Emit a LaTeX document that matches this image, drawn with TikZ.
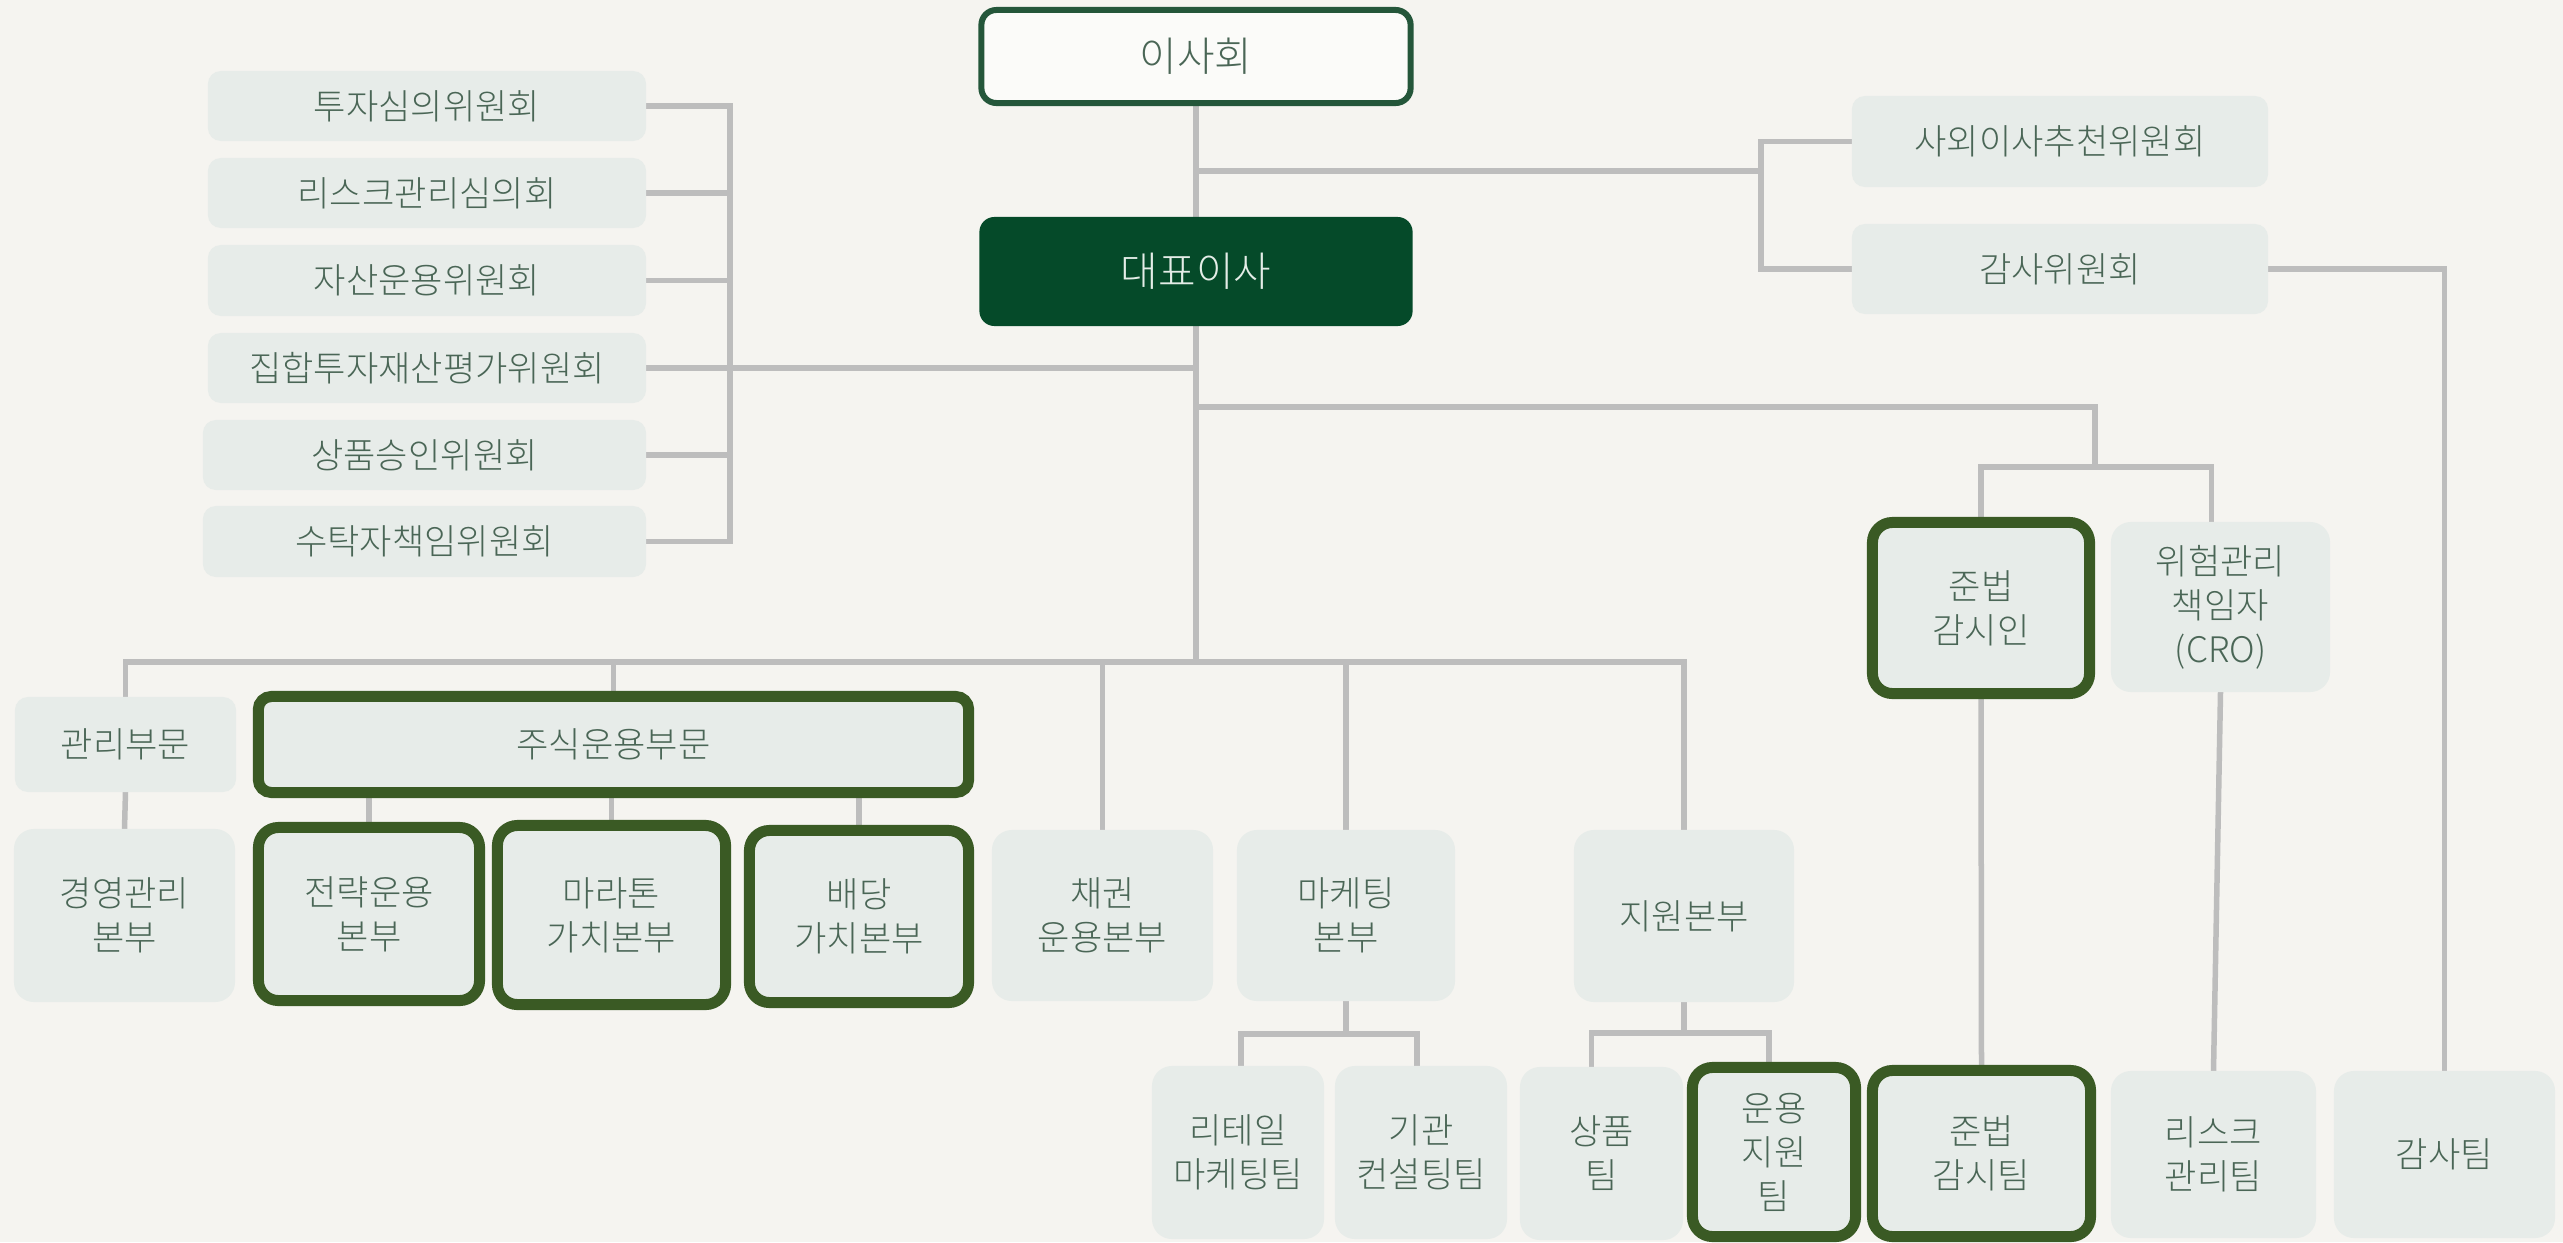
\documentclass[tikz,border=0pt]{standalone}
\usepackage{fontspec}
\IfFontExistsTF{Noto Sans CJK KR Light}{\setmainfont{Noto Sans CJK KR Light}}{\setmainfont{Noto Sans CJK KR}}
\definecolor{paperc}{HTML}{F5F4F0}
\definecolor{boxfill}{HTML}{E7ECE9}
\definecolor{txt}{HTML}{4A6656}
\definecolor{wiregray}{HTML}{BDBDBD}
\definecolor{olivec}{HTML}{3A5A24}
\definecolor{boardc}{HTML}{24563A}
\definecolor{ceoc}{HTML}{054A29}
\definecolor{ceotxt}{HTML}{E4EDE7}
\pgfdeclarelayer{paper}
\pgfdeclarelayer{wires}
\pgfsetlayers{paper,wires,main}
\begin{document}
\begin{tikzpicture}[x=0.01cm,y=-0.01cm,
  wire/.style={draw=wiregray, line width=0.055cm},
  box/.style={fill=boxfill, text=txt, align=center, inner sep=0pt, outer sep=0pt,
    rounded corners=0.2cm, font=\fontsize{10}{12.5}\selectfont},
  flat/.style={box, rounded corners=0.13cm},
  hl/.style={box, draw=olivec, line width=0.11cm}]
\begin{pgfonlayer}{paper}
\fill[paperc] (0,0) rectangle (2563,1242);
\end{pgfonlayer}
\useasboundingbox (0,0) rectangle (2563,1242);

% top
\node[box, fill=white!60!paperc, draw=boardc, line width=0.06cm, rounded corners=0.15cm,
  minimum width=4.29cm, minimum height=0.93cm, font=\fontsize{11.6}{14}\selectfont] (board) at (1196,56.5) {이사회};
\node[box, fill=ceoc, text=ceotxt, rounded corners=0.15cm,
  minimum width=4.33cm, minimum height=1.09cm, font=\fontsize{11.6}{14}\selectfont] (ceo) at (1196,271.5) {대표이사};

% left committees
\node[flat, minimum width=4.38cm, minimum height=0.70cm] (c1) at (427,106) {투자심의위원회};
\node[flat, minimum width=4.38cm, minimum height=0.70cm] (c2) at (427,193) {리스크관리심의회};
\node[flat, minimum width=4.38cm, minimum height=0.71cm] (c3) at (427,280.5) {자산운용위원회};
\node[flat, minimum width=4.38cm, minimum height=0.70cm] (c4) at (427,368) {집합투자재산평가위원회};
\node[flat, minimum width=4.43cm, minimum height=0.70cm] (c5) at (424.5,455) {상품승인위원회};
\node[flat, minimum width=4.43cm, minimum height=0.71cm] (c6) at (424.5,541.5) {수탁자책임위원회};

% right committees
\node[flat, minimum width=4.16cm, minimum height=0.91cm] (r1) at (2060,141.5) {사외이사추천위원회};
\node[flat, minimum width=4.16cm, minimum height=0.90cm] (r2) at (2060,269) {감사위원회};

% compliance / risk officers
\node[hl, minimum width=2.17cm, minimum height=1.71cm] (jun) at (1981,608) {준법\\감시인};
\node[box, minimum width=2.19cm, minimum height=1.70cm] (cro) at (2220.5,607) {위험관리\\책임자\\(CRO)};

% divisions
\node[flat, minimum width=2.21cm, minimum height=0.95cm] (gwan) at (125.5,744.5) {관리부문};
\node[hl, rounded corners=0.13cm, minimum width=7.10cm, minimum height=0.96cm] (jusik) at (613.5,744.5) {주식운용부문};
\node[box, minimum width=2.21cm, minimum height=1.73cm] (gyeong) at (124.5,915.5) {경영관리\\본부};
\node[hl, minimum width=2.21cm, minimum height=1.73cm] (jeon) at (369,914) {전략운용\\본부};
\node[hl, minimum width=2.28cm, minimum height=1.79cm] (mara) at (611.5,915) {마라톤\\가치본부};
\node[hl, minimum width=2.19cm, minimum height=1.72cm] (baed) at (859,916.5) {배당\\가치본부};
\node[box, minimum width=2.21cm, minimum height=1.71cm] (chae) at (1102.5,915.5) {채권\\운용본부};
\node[box, minimum width=2.18cm, minimum height=1.71cm] (mkt) at (1346,915.5) {마케팅\\본부};
\node[box, minimum width=2.20cm, minimum height=1.72cm] (jiwon) at (1684,916) {지원본부};

% teams
\node[box, minimum width=1.72cm, minimum height=1.73cm] (retail) at (1238,1152.5) {리테일\\마케팅팀};
\node[box, minimum width=1.72cm, minimum height=1.73cm] (inst) at (1421,1152.5) {기관\\컨설팅팀};
\node[box, minimum width=1.63cm, minimum height=1.73cm] (prod) at (1601.5,1153.5) {상품\\팀};
\node[hl, minimum width=1.63cm, minimum height=1.69cm] (opsup) at (1774,1152) {운용\\지원\\팀};
\node[hl, minimum width=2.18cm, minimum height=1.66cm] (junteam) at (1981.5,1153.5) {준법\\감시팀};
\node[box, minimum width=2.05cm, minimum height=1.67cm] (riskteam) at (2213.5,1154.5) {리스크\\관리팀};
\node[box, minimum width=2.21cm, minimum height=1.67cm] (audit) at (2444.5,1154.5) {감사팀};

\begin{pgfonlayer}{wires}
\coordinate (jl) at (730,368);
\coordinate (jr) at (1761,171);
\coordinate (bar) at (1196,662);
\coordinate (top407) at (1196,407);
\coordinate (bar467) at (2095,467);
\coordinate (mbar) at (1346,1034);
\coordinate (sbar) at (1684,1033);

\draw[wire] (board.south) -- (ceo.north);
\draw[wire] (ceo.south) -- (bar);
% left committees bracket
\draw[wire] (c1.east) -- (c1.east -| jl) -- (c6.east -| jl) -- (c6.east);
\draw[wire] (c2.east) -- (c2.east -| jl);
\draw[wire] (c3.east) -- (c3.east -| jl);
\draw[wire] (c5.east) -- (c5.east -| jl);
\draw[wire] (c4.east) -- (c4.east -| ceo.south);
% right committees bracket
\draw[wire] (board.south |- jr) -- (jr);
\draw[wire] (r1.west) -- (r1.west -| jr) -- (r2.west -| jr) -- (r2.west);
\draw[wire] (r2.east) -| (audit.north);
% officers
\draw[wire] (top407) -- (top407 -| bar467) -- (bar467);
\draw[wire] (jun.north) -- (jun.north |- bar467) -- ([xshift=-0.09cm]cro.north |- bar467) -- ([xshift=-0.09cm]cro.north);
\draw[wire] (jun.south) -- (junteam.north);
\draw[wire] (cro.south) -- (riskteam.north);
% division bar
\draw[wire] (gwan.north) -- (gwan.north |- bar) -- (jiwon.north |- bar) -- (jiwon.north);
\draw[wire] (jusik.north |- bar) -- (jusik.north);
\draw[wire] (chae.north |- bar) -- (chae.north);
\draw[wire] (mkt.north |- bar) -- (mkt.north);
\draw[wire] (gwan.south) -- (gyeong.north);
\draw[wire] (jeon.north |- jusik.south) -- (jeon.north);
\draw[wire] (mara.north |- jusik.south) -- (mara.north);
\draw[wire] (baed.north |- jusik.south) -- (baed.north);
% marketing teams
\draw[wire] (mkt.south) -- (mbar);
\draw[wire] ([xshift=0.03cm]retail.north) -- ([xshift=0.03cm]retail.north |- mbar) -- ([xshift=-0.04cm]inst.north |- mbar) -- ([xshift=-0.04cm]inst.north);
% support teams
\draw[wire] (jiwon.south) -- (sbar);
\draw[wire] ([xshift=-0.10cm]prod.north) -- ([xshift=-0.10cm]prod.north |- sbar) -- ([xshift=-0.05cm]opsup.north |- sbar) -- ([xshift=-0.05cm]opsup.north);
\end{pgfonlayer}
\end{tikzpicture}
\end{document}
